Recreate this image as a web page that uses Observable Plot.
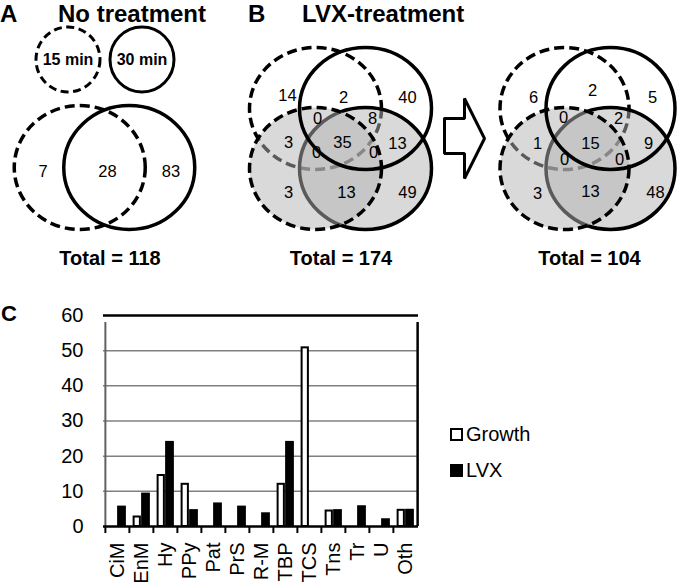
<!DOCTYPE html>
<html>
<head>
<meta charset="utf-8">
<script src="https://cdn.jsdelivr.net/npm/d3@7"></script>
<script src="https://cdn.jsdelivr.net/npm/@observablehq/plot@0.6"></script>
<style>
  html, body { margin: 0; padding: 0; background: #fff; }
  #fig { position: relative; width: 680px; height: 584px; overflow: hidden; font-family: "Liberation Sans", Arial, sans-serif; color: #000; }
  .hdr { position: absolute; font-weight: bold; font-size: 24px; line-height: 27px; white-space: nowrap; }
  .leg { position: absolute; font-size: 20px; line-height: 20px; white-space: nowrap; display: flex; align-items: center; }
  .sw { display: inline-block; width: 13px; height: 13px; box-sizing: border-box; margin-right: 3px; }
</style>
</head>
<body>
<div id="fig"></div>
<script>
// ---------------- data ----------------
const vennACounts = [7, 28, 83];            // 15 min only, both, 30 min only
const vennATotal = 118;
const vennASetLabels = ["15 min", "30 min"];
// region order: top-left, top-mid, top-right, ...
const vennBCounts = [14, 2, 40, 0, 8, 3, 35, 13, 0, 0, 3, 13, 49];
const vennBTotal = 174;
const vennCCounts = [6, 2, 5, 0, 2, 1, 15, 9, 0, 0, 3, 13, 48];
const vennCTotal = 104;

const categories = ["CiM", "EnM", "Hy", "PPy", "Pat", "PrS", "R-M", "TBP", "TCS", "Tns", "Tr", "U", "Oth"];
const growthValues = [0, 2.7, 14.5, 12.0, 0, 0, 0, 12.0, 50.8, 4.4, 0, 0, 4.6];
const lvxValues = [5.8, 9.5, 24.2, 4.8, 6.7, 5.8, 3.9, 24.2, 0, 4.8, 5.9, 2.2, 4.9];
const seriesNames = ["Growth", "LVX"];
const yTicks = [0, 10, 20, 30, 40, 50, 60];

// ---------------- layout ----------------
const FONT = '"Liberation Sans", Arial, sans-serif';
const fig = document.getElementById("fig");

function ellipseSymbol(rx, ry) {
  const k = 0.5522847;
  return {
    draw(ctx) {
      ctx.moveTo(rx, 0);
      ctx.bezierCurveTo(rx, ry * k, rx * k, ry, 0, ry);
      ctx.bezierCurveTo(-rx * k, ry, -rx, ry * k, -rx, 0);
      ctx.bezierCurveTo(-rx, -ry * k, -rx * k, -ry, 0, -ry);
      ctx.bezierCurveTo(rx * k, -ry, rx, -ry * k, rx, 0);
      ctx.closePath();
    }
  };
}

function place(el, left, top) {
  el.style.position = "absolute";
  el.style.left = left + "px";
  el.style.top = top + "px";
  fig.appendChild(el);
}
function addText(txt, cls, left, top, extra = "") {
  const d = document.createElement("div");
  d.className = cls;
  d.textContent = txt;
  d.style.cssText += `left:${left}px;top:${top}px;${extra}`;
  fig.appendChild(d);
}

function vennFrame(w, xmin, ymin, h) {
  return {
    width: w, height: h, margin: 0, marginTop: 0, marginBottom: 0, marginLeft: 0, marginRight: 0,
    style: { fontFamily: FONT, background: "transparent", overflow: "visible", color: "#000" },
    x: { domain: [xmin, xmin + w], axis: null },
    y: { domain: [ymin + h, ymin], axis: null }
  };
}

// headers
addText("A", "hdr", 0, 0);
addText("No treatment", "hdr", 58, 0);
addText("B", "hdr", 248, 0);
addText("LVX-treatment", "hdr", 302, 0);
addText("C", "hdr", 1, 300, "font-size:22px;");

// ---------------- Venn A ----------------
{
  const legendPos = [{x: -36.5, y: -108, dash: "8,4.5"}, {x: 37.5, y: -108, dash: null}];
  const circPos = [{x: -24.75, y: 0, dash: "10,5"}, {x: 24.75, y: 0, dash: null}];
  const labelPos = [[-61.5, 4.5], [3, 4.5], [66.5, 4.5]];
  const labels = vennACounts.map((v, i) => ({x: labelPos[i][0], y: labelPos[i][1], t: String(v)}));
  const setLabels = vennASetLabels.map((s, i) => ({x: legendPos[i].x, y: legendPos[i].y, t: s}));
  const marks = [];
  legendPos.forEach((c) => marks.push(Plot.dot([c], {x: "x", y: "y", symbol: ellipseSymbol(32, 32.5), fill: "none", stroke: "#000", strokeWidth: 3, strokeDasharray: c.dash ?? undefined})));
  circPos.forEach(c => marks.push(Plot.dot([c], {x: "x", y: "y", symbol: ellipseSymbol(65.5, 62), fill: "none", stroke: "#000", strokeWidth: 3.5, strokeDasharray: c.dash ?? undefined})));
  marks.push(Plot.text(setLabels, {x: "x", y: "y", text: "t", fontSize: 16, fontWeight: "bold", fill: "#000"}));
  marks.push(Plot.text(labels, {x: "x", y: "y", text: "t", fontSize: 16.5, fill: "#000"}));
  marks.push(Plot.text([{x: 5.5, y: 91.5, t: `Total = ${vennATotal}`}], {x: "x", y: "y", text: "t", fontSize: 20, fontWeight: "bold", fill: "#000"}));
  const p = Plot.plot({...vennFrame(210, -104, -147, 260), marks});
  place(p, 0, 20);
}

// ---------------- Venn B & C ----------------
function fourVenn(counts, total, dxc, rx, ry, labelPos, totalDx, left, top, w, xmin) {
  const c = (x, y) => [{x, y}];
  const sym = ellipseSymbol(rx, ry);
  const labels = counts.map((v, i) => ({x: labelPos[i][0], y: labelPos[i][1], t: String(v)}));
  const marks = [
    // top dashed (15 min)
    Plot.dot(c(-dxc, -30), {x: "x", y: "y", symbol: sym, fill: "none", stroke: "#000", strokeWidth: 3.5, strokeDasharray: "10,5"}),
    // bottom solid - shaded
    Plot.dot(c(dxc, 30), {x: "x", y: "y", symbol: sym, fill: "#b4b4b4", fillOpacity: 0.5, stroke: "#000", strokeWidth: 3.5}),
    // bottom dashed - shaded
    Plot.dot(c(-dxc, 30), {x: "x", y: "y", symbol: sym, fill: "#b4b4b4", fillOpacity: 0.5, stroke: "none"}),
    Plot.dot(c(-dxc, 30), {x: "x", y: "y", symbol: sym, fill: "none", stroke: "#000", strokeWidth: 3.5, strokeDasharray: "10,5"}),
    // top solid (30 min)
    Plot.dot(c(dxc, -30), {x: "x", y: "y", symbol: sym, fill: "none", stroke: "#000", strokeWidth: 3.5}),
    Plot.text(labels, {x: "x", y: "y", text: "t", fontSize: 16.5, fill: "#000"}),
    Plot.text([{x: totalDx, y: 120.5, t: `Total = ${total}`}], {x: "x", y: "y", text: "t", fontSize: 20, fontWeight: "bold", fill: "#000"})
  ];
  const p = Plot.plot({...vennFrame(w, xmin, -98, 250), marks});
  place(p, left, top);
}

const layoutB = [[-53, -43], [3, -41], [67, -41], [-23, -20], [32, -20], [-52, 4], [2, 4], [57, 5], [-24, 14], [33, 14], [-52, 54], [6, 54], [67, 54]];
const layoutC = [[-54, -41], [5, -48], [65, -41], [-24, -21], [31, -20], [-50, 5], [3, 5], [61, 5], [-23, 21], [32, 21], [-50, 55], [3, 53], [68, 54]];
fourVenn(vennBCounts, vennBTotal, 25, 66, 61, layoutB, 0.5, 240, 40, 200, -100);
fourVenn(vennCCounts, vennCTotal, 23, 64.5, 61, layoutC, 2, 487, 40, 193, -100);

// ---------------- arrow ----------------
{
  const arrowShape = [[0, 20], [20, 20], [20, 0], [40, 40], [20, 80], [20, 55], [0, 55], [0, 20]];
  const p = Plot.plot({
    ...vennFrame(46, -3, -3, 86),
    marks: [Plot.line(arrowShape, {x: d => d[0], y: d => d[1], fill: "#fff", stroke: "#000", strokeWidth: 3, strokeLinejoin: "miter", curve: "linear"})]
  });
  place(p, 441, 95);
}

// ---------------- bar chart ----------------
{
  const W = 430, mL = 103, mR = 12;
  const bw = (W - mL - mR) / categories.length;
  const barW = 8.5;
  const table = categories.flatMap((cat, i) => [
    {cat, series: seriesNames[0], value: growthValues[i]},
    {cat, series: seriesNames[1], value: lvxValues[i]}
  ]);
  const p = Plot.plot({
    width: W, height: 284,
    marginLeft: mL, marginRight: mR, marginTop: 15, marginBottom: 58,
    style: { fontFamily: FONT, fontSize: "20px", background: "transparent", overflow: "visible", color: "#000" },
    x: { domain: categories, padding: 0, axis: null },
    y: { domain: [0, 60], axis: null },
    marks: [
      Plot.ruleY(yTicks.filter(t => t > 0 && t < 60), {stroke: "#808080", strokeWidth: 1.5}),
      Plot.barY(table.filter(d => d.series === "Growth" && d.value > 0), {x: "cat", y: "value", fill: "#fff", stroke: "#000", strokeWidth: 2, insetLeft: bw / 2 - barW + 1, insetRight: bw / 2 + 1}),
      Plot.barY(table.filter(d => d.series === "LVX" && d.value > 0), {x: "cat", y: "value", fill: "#000", insetLeft: bw / 2, insetRight: bw / 2 - barW - 0.5}),
      Plot.axisY({ticks: yTicks, tickSize: 0, tickPadding: 20, fontSize: 20, label: null}),
      Plot.axisX({tickSize: 0, tickPadding: 16, tickRotate: -90, fontSize: 20, label: null}),
      Plot.axisX({tickSize: 7, tickFormat: () => "", dx: -bw / 2, strokeWidth: 2, label: null}),
      Plot.ruleX([categories[categories.length - 1]], {dx: bw / 2, y1: 0, y2: 60, insetBottom: -7, strokeWidth: 2.5, stroke: "#000"}),
      Plot.ruleX([categories[0]], {dx: -bw / 2, y1: 0, y2: 60, insetBottom: -7, strokeWidth: 2, stroke: "#606060"}),
      Plot.ruleY([0], {strokeWidth: 2.5, stroke: "#000"}),
      Plot.ruleY([60], {strokeWidth: 2.5, stroke: "#000"})
    ]
  });
  place(p, 0, 300);

  // legend
  const leg = [{name: seriesNames[0], fill: "#fff"}, {name: seriesNames[1], fill: "#000"}];
  leg.forEach((l, i) => {
    const d = document.createElement("div");
    d.className = "leg";
    d.innerHTML = `<span class="sw" style="background:${l.fill};border:2.5px solid #000"></span><span>${l.name}</span>`;
    d.style.left = "450px";
    d.style.top = (424 + i * 36) + "px";
    fig.appendChild(d);
  });
}
</script>
</body>
</html>
